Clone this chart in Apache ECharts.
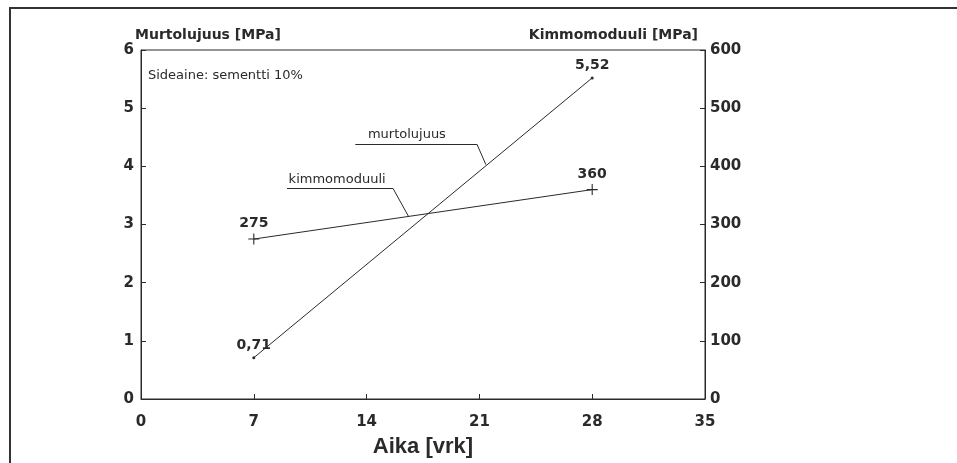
<!DOCTYPE html>
<html>
<head>
<meta charset="utf-8">
<script src="https://cdn.jsdelivr.net/npm/echarts@6/dist/echarts.min.js"></script>
<style>html,body{margin:0;padding:0;background:#fff;}#c{width:957px;height:463px;}</style>
</head>
<body>
<div id="c"></div>
<script>
// Data
const days = [7, 28];
const murtolujuus = [0.71, 5.52];      // MPa, left axis
const kimmomoduuli = [275, 360];       // MPa, right axis
const xTicks = [0, 7, 14, 21, 28, 35];
const leftTicks = [0, 1, 2, 3, 4, 5, 6];
const rightTicks = [0, 100, 200, 300, 400, 500, 600];
// annotation leader lines (data coords, left axis)
const murtoLeader = [[13.3, 4.38], [20.85, 4.38], [21.4, 4.03]];
const kimmoLeader = [[9.06, 3.62], [15.64, 3.62], [16.6, 3.14]];
const murtoLabelPos = [16.5, 4.54];
const kimmoLabelPos = [12.17, 3.77];

const FONT = '"DejaVu Sans", sans-serif';
const FONT2 = '"Liberation Sans", Arial, sans-serif';
const INK = '#2a2a2a';

function segs(pts) {
  const out = [];
  for (let i = 0; i < pts.length - 1; i++) out.push([{coord: pts[i]}, {coord: pts[i + 1]}]);
  return out;
}
const fmt = v => String(v).replace('.', ',');

const chart = echarts.init(document.getElementById('c'), null, {renderer: 'canvas'});
chart.setOption({
  animation: false,
  backgroundColor: '#fff',
  grid: {left: 141, right: 252, top: 50, bottom: 63, show: true, borderColor: INK, borderWidth: 1, containLabel: false},
  xAxis: {
    type: 'value', min: xTicks[0], max: xTicks[xTicks.length - 1], interval: 7,
    name: 'Aika [vrk]', nameLocation: 'middle', nameGap: 37,
    nameTextStyle: {fontFamily: FONT2, fontSize: 22, fontWeight: 'bold', color: INK},
    axisLine: {lineStyle: {color: INK, width: 1}},
    axisTick: {inside: true, length: 5, lineStyle: {color: INK}},
    axisLabel: {fontFamily: FONT, fontSize: 15, fontWeight: 'bold', color: INK, margin: 16},
    splitLine: {show: false}
  },
  yAxis: [{
    type: 'value', min: 0, max: 6, interval: 1, position: 'left',
    name: 'Murtolujuus [MPa]', nameLocation: 'end', nameGap: 4,
    nameTextStyle: {fontFamily: FONT, fontSize: 14, fontWeight: 'bold', color: INK, align: 'left', padding: [0, 0, 0, -6]},
    axisLine: {show: true, lineStyle: {color: INK, width: 1}},
    axisTick: {show: true, inside: true, length: 5, lineStyle: {color: INK}},
    axisLabel: {fontFamily: FONT, fontSize: 15, fontWeight: 'bold', color: INK, margin: 7},
    splitLine: {show: false}
  }, {
    type: 'value', min: 0, max: 600, interval: 100, position: 'right',
    name: 'Kimmomoduuli [MPa]', nameLocation: 'end', nameGap: 8,
    nameTextStyle: {fontFamily: FONT, fontSize: 14, fontWeight: 'bold', color: INK, align: 'right', padding: [0, 7, 0, 0]},
    axisLine: {show: true, lineStyle: {color: INK, width: 1}},
    axisTick: {show: true, inside: true, length: 5, lineStyle: {color: INK}},
    axisLabel: {fontFamily: FONT, fontSize: 15, fontWeight: 'bold', color: INK, margin: 5},
    splitLine: {show: false}
  }],
  series: [{
    name: 'murtolujuus', type: 'line', yAxisIndex: 0,
    data: days.map((d, i) => [d, murtolujuus[i]]),
    symbol: 'circle', symbolSize: 3,
    lineStyle: {color: INK, width: 1}, itemStyle: {color: INK},
    label: {show: true, position: 'top', distance: 4, formatter: p => fmt(p.value[1]),
      fontFamily: FONT, fontSize: 14, fontWeight: 'bold', color: INK},
    markLine: {
      silent: true, symbol: 'none', animation: false,
      lineStyle: {color: INK, width: 1, type: 'solid'}, label: {show: false},
      data: segs(murtoLeader).concat(segs(kimmoLeader))
    },
    markPoint: {
      silent: true, symbol: 'rect', symbolSize: 1, itemStyle: {color: 'rgba(0,0,0,0)'},
      data: [
        {coord: murtoLabelPos, label: {show: true, formatter: 'murtolujuus', fontFamily: FONT, fontSize: 13, color: INK}},
        {coord: kimmoLabelPos, label: {show: true, formatter: 'kimmomoduuli', fontFamily: FONT, fontSize: 13, color: INK}}
      ]
    }
  }, {
    name: 'kimmomoduuli', type: 'line', yAxisIndex: 1,
    data: days.map((d, i) => [d, kimmomoduuli[i]]),
    symbol: 'path://M4.5,0H5.5V10H4.5ZM0,4.5H10V5.5H0Z', symbolSize: 11,
    lineStyle: {color: INK, width: 1}, itemStyle: {color: INK},
    label: {show: true, position: 'top', distance: 3, formatter: p => fmt(p.value[1]),
      fontFamily: FONT, fontSize: 14, fontWeight: 'bold', color: INK}
  }],
  graphic: [
    {type: 'text', left: 148, top: 69, silent: true,
     style: {text: 'Sideaine: sementti 10%', fontFamily: FONT, fontSize: 13, fill: INK}},
    {type: 'line', silent: true, shape: {x1: 10, y1: 8, x2: 10, y2: 463}, style: {stroke: '#333', lineWidth: 2}},
    {type: 'line', silent: true, shape: {x1: 9, y1: 8, x2: 957, y2: 8}, style: {stroke: '#333', lineWidth: 2}}
  ]
});
</script>
</body>
</html>
